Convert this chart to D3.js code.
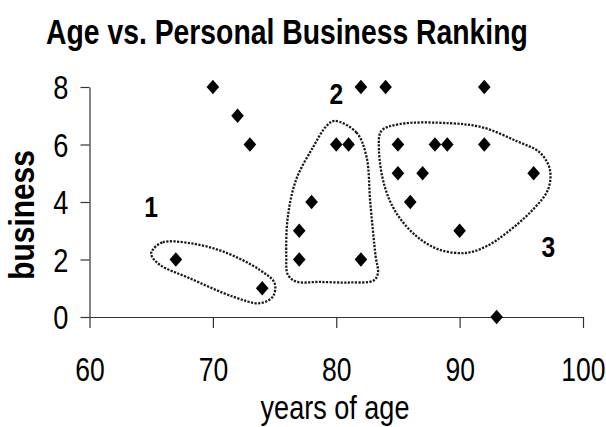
<!DOCTYPE html>
<html><head><meta charset="utf-8">
<script src="https://cdn.jsdelivr.net/npm/d3@7"></script>
<style>
html,body{margin:0;padding:0;background:#fff;}
svg{display:block;}
text{fill:#000;}
</style></head>
<body>
<svg id="chart" width="606" height="427"></svg>
<script>
// ---- data ----
const ages     = [70, 72, 73, 67, 74, 77, 77, 78, 80, 81, 82, 82, 84, 92, 85, 88, 89, 92, 85, 87, 96, 86, 90, 93];
const business = [ 8,  7,  6,  2,  1,  3,  2,  4,  6,  6,  2,  8,  8,  8,  6,  6,  6,  6,  5,  5,  5,  4,  3,  0];
const xTicks = [60, 70, 80, 90, 100];
const yTicks = [0, 2, 4, 6, 8];
const titleText = "Age vs. Personal Business Ranking";
const xTitle = "years of age";
const yTitle = "business";
// cluster annotations (data coordinates)
const clusterLabels = ["1", "2", "3"];
const clusterLabelX = [65, 80, 97.2];
const clusterLabelY = [3.85, 7.76, 2.45];
// hand-drawn enclosing loops (data coordinates)
const loop1 = [[65.13,2.34],[65.94,2.60],[68.11,2.57],[70.81,2.28],[73.79,1.64],[75.0,1.18],[74.86,0.71],[73.79,0.48],[71.62,0.71],[68.11,1.35],[65.68,1.82],[65.0,2.17]];
const loop2 = [[79.87,6.82],[81.63,6.42],[82.44,5.60],[82.76,3.97],[83.19,2.11],[83.38,1.53],[83.03,1.27],[81.09,1.20],[78.65,1.22],[76.76,1.23],[76.08,1.47],[75.95,2.11],[76.08,3.50],[76.76,4.79],[78.11,5.90],[79.20,6.64]];
const loop3 = [[83.66,6.47],[85.14,6.71],[89.20,6.74],[91.90,6.59],[94.61,6.12],[96.50,5.72],[97.31,5.14],[97.17,4.44],[95.95,3.74],[93.79,2.92],[92.17,2.46],[90.55,2.23],[88.38,2.34],[86.50,2.81],[84.87,3.62],[83.92,4.55],[83.46,5.83]];

// ---- drawing ----
const svg = d3.select("#chart");
const font = "'Liberation Sans Narrow','Arial Narrow','Liberation Sans',Arial,sans-serif";
const x = d3.scaleLinear().domain([60, 100]).range([89.5, 583]);
const y = d3.scaleLinear().domain([0, 8]).range([317, 87]);

// condense text horizontally (emulates a narrow face) using a transform
function condense(sel, factor, targetWidth) {
  sel.each(function() {
    const t = d3.select(this);
    const f = targetWidth ? targetWidth / this.getComputedTextLength() : factor;
    const tx = +t.attr("x") || 0, ty = +t.attr("y") || 0;
    const prev = t.attr("transform") || "";
    t.attr("x", 0).attr("y", 0)
     .attr("transform", `${prev} translate(${tx},${ty}) scale(${f},1)`);
  });
}

svg.append("text")
  .attr("x", 46).attr("y", 44)
  .attr("font-family", font).attr("font-weight", "bold").attr("font-size", 34.5)
  .text(titleText)
  .call(condense, 1, 482);

// axes
const xAxis = svg.append("g").attr("transform", `translate(0,${y(0)})`)
  .call(d3.axisBottom(x).tickValues(xTicks).tickSize(11).tickPadding(29).tickSizeOuter(0));
const yAxis = svg.append("g").attr("transform", `translate(${x(60)},0)`)
  .call(d3.axisLeft(y).tickValues(yTicks).tickSize(9).tickPadding(12).tickSizeOuter(0));
[xAxis, yAxis].forEach(g => {
  g.select(".domain").attr("stroke", "#333").attr("stroke-width", 1.2);
  g.selectAll(".tick line").attr("stroke", "#333").attr("stroke-width", 1.2);
  g.selectAll(".tick text").attr("font-family", font).attr("font-size", 34).attr("fill", "#000");
});
yAxis.selectAll(".tick text").attr("dy", "0.35em");
xAxis.selectAll(".tick text").call(condense, 0.78);
yAxis.selectAll(".tick text").call(condense, 0.8);

// axis titles
svg.append("text")
  .attr("x", x(79.9)).attr("y", 419)
  .attr("text-anchor", "middle")
  .attr("font-family", font).attr("font-size", 33)
  .text(xTitle)
  .call(condense, 0.82);
svg.append("text")
  .attr("transform", `translate(34,${y(3.55)}) rotate(-90)`)
  .attr("text-anchor", "middle")
  .attr("font-family", font).attr("font-weight", "bold").attr("font-size", 36)
  .text(yTitle)
  .call(condense, 0.83);

// loops
const loopLine = d3.line().x(d => x(d[0])).y(d => y(d[1])).curve(d3.curveCatmullRomClosed.alpha(0.5));
svg.append("g").selectAll("path").data([loop1, loop2, loop3]).join("path")
  .attr("d", loopLine)
  .attr("fill", "none").attr("stroke", "#1a1a1a").attr("stroke-width", 2.3)
  .attr("stroke-dasharray", "2.2 1.4");

// cluster labels
svg.append("g").selectAll("text").data(clusterLabels).join("text")
  .attr("x", (d, i) => x(clusterLabelX[i]))
  .attr("y", (d, i) => y(clusterLabelY[i]))
  .attr("dy", "0.36em")
  .attr("text-anchor", "middle")
  .attr("font-family", font).attr("font-weight", "bold").attr("font-size", 29)
  .text(d => d)
  .call(condense, 0.85);

// diamonds
const hw = 6.3, hh = 7.3;
svg.append("g").selectAll("path").data(ages).join("path")
  .attr("transform", (d, i) => `translate(${x(d)},${y(business[i])})`)
  .attr("d", `M0,${-hh}L${hw},0L0,${hh}L${-hw},0Z`)
  .attr("fill", "#000");
</script>
</body></html>
